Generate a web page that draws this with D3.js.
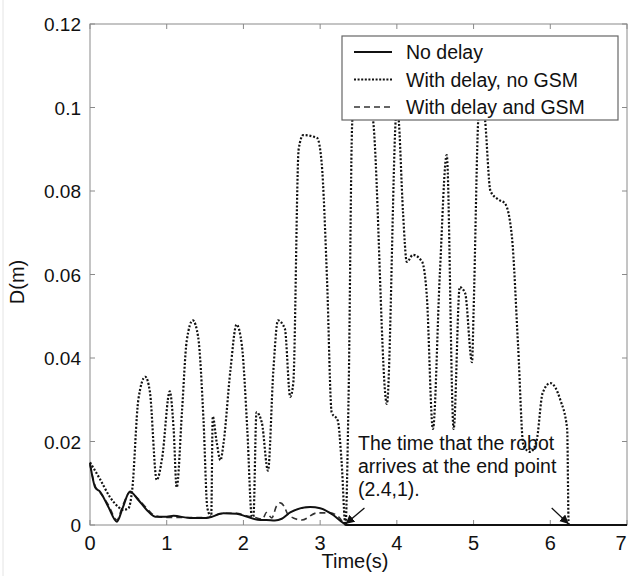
<!DOCTYPE html>
<html>
<head>
<meta charset="utf-8">
<script src="https://d3js.org/d3.v7.min.js"></script>
<style>
  body { margin: 0; background: #fff; }
  text { font-family: "Liberation Sans", Arial, sans-serif; fill: #111; }
</style>
</head>
<body>
<div id="chart"></div>
<script>
// series: time (s) and D (m)
const noDelayT = [0, 0.07, 0.13, 0.24, 0.35, 0.43, 0.52, 0.63, 0.74, 0.85, 1.0, 1.09, 1.3, 1.52, 1.74, 1.91, 2.04, 2.22, 2.3, 2.41, 2.5, 2.61, 2.87, 3.0, 3.17, 3.3, 3.35, 7];
const noDelayD = [0.0148, 0.0089, 0.008, 0.0043, 0.0008, 0.0043, 0.008, 0.006, 0.0036, 0.002, 0.002, 0.0022, 0.0017, 0.0017, 0.0028, 0.0027, 0.002, 0.0012, 0.0012, 0.0011, 0.0015, 0.003, 0.0043, 0.004, 0.0024, 0.0005, 0, 0];

const noGsmT = [0, 0.05, 0.13, 0.26, 0.37, 0.43, 0.5, 0.55, 0.63, 0.72, 0.78, 0.87, 0.94, 1.04, 1.09, 1.13, 1.2, 1.26, 1.34, 1.41, 1.48, 1.53, 1.58, 1.6, 1.65, 1.7, 1.74, 1.83, 1.91, 1.98, 2.05, 2.11, 2.13, 2.17, 2.24, 2.32, 2.39, 2.45, 2.54, 2.61, 2.65, 2.72, 2.78, 2.96, 3.02, 3.09, 3.15, 3.23, 3.28, 3.33, 3.37, 3.42, 3.55, 3.69, 3.87, 4.0, 4.02, 4.08, 4.13, 4.21, 4.33, 4.39, 4.47, 4.56, 4.65, 4.74, 4.82, 4.89, 4.98, 5.0, 5.06, 5.1, 5.15, 5.22, 5.32, 5.41, 5.5, 5.58, 5.65, 5.74, 5.82, 5.9, 6.0, 6.13, 6.22, 6.24, 7];
const noGsmD = [0.015, 0.0135, 0.011, 0.0067, 0.0043, 0.0036, 0.004, 0.0084, 0.03, 0.0355, 0.032, 0.0108, 0.016, 0.032, 0.023, 0.009, 0.0275, 0.044, 0.049, 0.045, 0.025, 0.004, 0.002, 0.026, 0.02, 0.0155, 0.0195, 0.037, 0.048, 0.043, 0.023, 0.002, 0.002, 0.027, 0.0245, 0.013, 0.037, 0.049, 0.047, 0.0307, 0.034, 0.09, 0.0934, 0.0927, 0.0867, 0.0587, 0.027, 0.025, 0.015, 0, 0.03, 0.097, 0.108, 0.097, 0.029, 0.1, 0.098, 0.075, 0.063, 0.0647, 0.063, 0.055, 0.023, 0.06, 0.0886, 0.023, 0.057, 0.0555, 0.039, 0.051, 0.097, 0.105, 0.097, 0.08, 0.078, 0.077, 0.069, 0.043, 0.019, 0.0175, 0.02, 0.0316, 0.034, 0.03, 0.023, 0, 0];

const withGsmT = [0, 0.07, 0.13, 0.24, 0.35, 0.43, 0.52, 0.63, 0.74, 0.85, 1.0, 1.09, 1.3, 1.52, 1.74, 1.91, 2.04, 2.15, 2.25, 2.3, 2.37, 2.43, 2.48, 2.53, 2.58, 2.65, 2.76, 2.96, 3.13, 3.25, 3.33, 7];
const withGsmD = [0.0145, 0.0092, 0.0078, 0.0048, 0.0012, 0.0048, 0.0078, 0.0062, 0.004, 0.0022, 0.0018, 0.0018, 0.0018, 0.0018, 0.0028, 0.0028, 0.0022, 0.0018, 0.0014, 0.003, 0.0017, 0.0045, 0.0053, 0.0045, 0.0025, 0.0017, 0.0012, 0.0029, 0.0029, 0.0018, 0, 0];

const xTicks = [0, 1, 2, 3, 4, 5, 6, 7];
const yTicks = [0, 0.02, 0.04, 0.06, 0.08, 0.1, 0.12];
const legendLabels = ["No delay", "With delay, no GSM", "With delay and GSM"];
const noteLines = ["The time that the robot", "arrives at the end point", "(2.4,1)."];
const arrowTimes = [3.33, 6.24];

const W = 628, H = 576;
const m = { left: 90, right: 627, top: 24, bottom: 525 };

const svg = d3.select("#chart").append("svg").attr("width", W).attr("height", H);

const x = d3.scaleLinear().domain([0, 7]).range([m.left, m.right]);
const y = d3.scaleLinear().domain([0, 0.12]).range([m.bottom, m.top]);

// faint scan edge on the left
svg.append("line").attr("x1", 3).attr("x2", 3).attr("y1", 0).attr("y2", H)
  .attr("stroke", "#e4e4e4").attr("stroke-width", 1);

// box + inward ticks (matlab style)
const frame = svg.append("g").attr("stroke", "#8a8a8a").attr("stroke-width", 1).attr("fill", "none");
frame.append("rect").attr("x", m.left).attr("y", m.top).attr("width", m.right - m.left).attr("height", m.bottom - m.top);
xTicks.forEach(t => {
  frame.append("line").attr("x1", x(t)).attr("x2", x(t)).attr("y1", m.bottom).attr("y2", m.bottom - 5);
  frame.append("line").attr("x1", x(t)).attr("x2", x(t)).attr("y1", m.top).attr("y2", m.top + 5);
});
yTicks.forEach(v => {
  frame.append("line").attr("x1", m.left).attr("x2", m.left + 5).attr("y1", y(v)).attr("y2", y(v));
  frame.append("line").attr("x1", m.right).attr("x2", m.right - 5).attr("y1", y(v)).attr("y2", y(v));
});

// tick labels (last one pulled in so it stays on the page)
svg.append("g").selectAll("text").data(xTicks).join("text")
  .attr("x", d => Math.min(x(d), W - 7)).attr("y", 550).attr("text-anchor", "middle")
  .style("font-size", "20px").text(d => d);
svg.append("g").selectAll("text").data(yTicks).join("text")
  .attr("x", 81).attr("y", d => y(d) + 7).attr("text-anchor", "end")
  .style("font-size", "19px").text(d => d === 0 ? "0" : String(+d.toFixed(2)));

svg.append("text").attr("x", 355).attr("y", 568).attr("text-anchor", "middle")
  .style("font-size", "20px").text("Time(s)");
svg.append("text").attr("transform", "translate(24,282) rotate(-90)").attr("text-anchor", "middle")
  .style("font-size", "20px").text("D(m)");

// series
const line = d3.line().x(d => x(d[0])).y(d => y(d[1])).curve(d3.curveMonotoneX);
const series = [
  { t: noGsmT, d: noGsmD, color: "#111", w: 2.2, dash: "2,1.8" },
  { t: withGsmT, d: withGsmD, color: "#333", w: 1.6, dash: "6,4" },
  { t: noDelayT, d: noDelayD, color: "#111", w: 2, dash: null }
];
const plot = svg.append("g");
series.forEach(s => {
  plot.append("path").datum(d3.zip(s.t, s.d)).attr("d", line)
    .attr("fill", "none").attr("stroke", s.color).attr("stroke-width", s.w)
    .attr("stroke-dasharray", s.dash);
});

// legend (opaque, covers the peaks)
const lg = svg.append("g");
lg.append("rect").attr("x", 342).attr("y", 36).attr("width", 276).attr("height", 84)
  .attr("fill", "#fff").attr("stroke", "#666").attr("stroke-width", 1.2);
const legendStyles = [
  { color: "#111", w: 2, dash: null },
  { color: "#111", w: 2, dash: "2,1.6" },
  { color: "#333", w: 1.6, dash: "6,4" }
];
legendLabels.forEach((lab, i) => {
  const yy = 52 + i * 27.5;
  lg.append("line").attr("x1", 354).attr("x2", 392).attr("y1", yy).attr("y2", yy)
    .attr("stroke", legendStyles[i].color).attr("stroke-width", legendStyles[i].w)
    .attr("stroke-dasharray", legendStyles[i].dash);
  lg.append("text").attr("x", 406).attr("y", yy + 7).style("font-size", "19.5px").text(lab);
});

// annotation
noteLines.forEach((s, i) => {
  svg.append("text").attr("x", 358).attr("y", 450 + i * 23).style("font-size", "19.5px").text(s);
});

svg.append("defs").append("marker").attr("id", "arr").attr("viewBox", "0 0 10 10")
  .attr("refX", 10).attr("refY", 5).attr("markerWidth", 9).attr("markerHeight", 9)
  .attr("orient", "auto").attr("markerUnits", "userSpaceOnUse")
  .append("path").attr("d", "M0,0 L10,5 L0,10 z").attr("fill", "#111");
const arrowFrom = [[19, -17], [-17, -17]];
arrowTimes.forEach((t, i) => {
  svg.append("line")
    .attr("x1", x(t) + arrowFrom[i][0]).attr("y1", m.bottom + arrowFrom[i][1])
    .attr("x2", x(t)).attr("y2", m.bottom - 1)
    .attr("stroke", "#111").attr("stroke-width", 1.3).attr("marker-end", "url(#arr)");
});
</script>
</body>
</html>
